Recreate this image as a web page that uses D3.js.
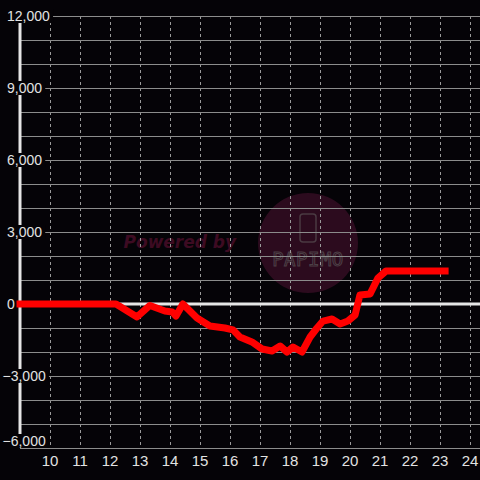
<!DOCTYPE html>
<html><head><meta charset="utf-8">
<script src="https://cdn.jsdelivr.net/npm/d3@7"></script>
<style>html,body{margin:0;padding:0;background:#050307;}svg{display:block;}</style>
</head><body>
<svg id="chart" width="480" height="480"></svg>
<script>
const xValues = [9.0, 12.2, 12.9, 13.33, 13.83, 14.07, 14.2, 14.43, 14.9, 15.33, 15.83, 16.1, 16.33, 16.73, 17.07, 17.4, 17.67, 17.9, 18.1, 18.4, 18.67, 18.9, 19.1, 19.4, 19.67, 19.93, 20.17, 20.33, 20.67, 20.93, 21.2, 23.17];
const yValues = [0, 0, -540, -60, -290, -330, -500, 0, -580, -920, -1000, -1080, -1375, -1580, -1875, -1960, -1750, -2000, -1790, -2000, -1375, -1000, -710, -625, -830, -710, -460, 375, 420, 1080, 1375, 1375];
const xTicks = [10, 11, 12, 13, 14, 15, 16, 17, 18, 19, 20, 21, 22, 23, 24];
const yLabelTicks = [12000, 9000, 6000, 3000, 0, -3000, -6000];
const yGridTicks = d3.range(-6000, 12001, 1000);

const W = 480, H = 480;
const svg = d3.select("#chart");
svg.append("rect").attr("width", W).attr("height", H).attr("fill", "#050307");

const x = d3.scaleLinear().domain([9, 24 + 1/3]).range([20, 480]);
const y = d3.scaleLinear().domain([-6000, 12000]).range([448, 16]);

// watermark
const wm = svg.append("g");
const wcx = x(18.6), wcy = y(2540);
wm.append("circle").attr("cx", wcx).attr("cy", wcy).attr("r", 50).attr("fill", "#2c0b1e");
wm.append("text").attr("x", x(12.45)).attr("y", y(2330)).attr("font-family", "DejaVu Sans")
  .attr("font-size", 17).attr("font-weight", "bold").attr("font-style", "italic")
  .attr("fill", "#3d0b22").text("Powered by");
wm.append("rect").attr("x", wcx - 8).attr("y", wcy - 29).attr("width", 16).attr("height", 28)
  .attr("rx", 3).attr("fill", "none").attr("stroke", "#4a3a42").attr("stroke-width", 1.5);
wm.append("text").attr("x", wcx).attr("y", wcy + 23).attr("text-anchor", "middle")
  .attr("font-family", "DejaVu Sans Mono").attr("font-size", 19).attr("letter-spacing", 0.5)
  .attr("fill", "none").attr("stroke", "#4c4046").attr("stroke-width", 1).text("PAPIMO");

// vertical dashed grid
svg.append("g").selectAll("line").data(xTicks).join("line")
  .attr("x1", d => x(d)).attr("x2", d => x(d))
  .attr("y1", y(12000)).attr("y2", y(-6000))
  .attr("stroke", "#9a9a9a").attr("stroke-width", 1).attr("stroke-dasharray", "3,3")
  .attr("shape-rendering", "crispEdges");

// horizontal grid
svg.append("g").selectAll("line").data(yGridTicks.filter(d => d !== 0)).join("line")
  .attr("x1", x(9)).attr("x2", W)
  .attr("y1", d => y(d)).attr("y2", d => y(d))
  .attr("stroke", "#8c8c8c").attr("stroke-width", 1).attr("shape-rendering", "crispEdges");

// zero line
svg.append("line").attr("x1", x(9)).attr("x2", W).attr("y1", y(0)).attr("y2", y(0))
  .attr("stroke", "#e6e6e6").attr("stroke-width", 3);

// y axis line
svg.append("line").attr("x1", x(9)).attr("x2", x(9)).attr("y1", y(12000)).attr("y2", y(-6000))
  .attr("stroke", "#e6e6e6").attr("stroke-width", 3);

// y labels with background
const fmt = d3.format(",");
const yl = svg.append("g").selectAll("g").data(yLabelTicks).join("g");
yl.each(function(d, i) {
  const g = d3.select(this);
  const cy = y(d) + (i === yLabelTicks.length - 1 ? -7 : 0);
  const t = g.append("text").attr("x", d < 0 ? 2.5 : 7).attr("y", cy).attr("dy", "0.35em")
    .attr("font-family", "Liberation Sans, Arial, sans-serif").attr("font-size", 14)
    .attr("fill", "#e2e2e2").text(fmt(d));
  const bb = t.node().getBBox();
  g.insert("rect", "text").attr("x", 0).attr("y", cy - 7).attr("width", bb.x + bb.width + 3)
    .attr("height", 14).attr("fill", "#050307");
});

// x labels
svg.append("g").selectAll("text").data(xTicks).join("text")
  .attr("x", d => x(d)).attr("y", 461).attr("dy", "0.35em").attr("text-anchor", "middle")
  .attr("font-family", "Liberation Sans, Arial, sans-serif").attr("font-size", 15)
  .attr("fill", "#e2e2e2").text(d => d);

// series line
const pts = xValues.map((v, i) => [v, yValues[i]]);
svg.append("path").datum(pts)
  .attr("d", d3.line().x(d => x(d[0])).y(d => y(d[1])))
  .attr("fill", "none").attr("stroke", "#ff0000").attr("stroke-width", 7)
  .attr("stroke-linejoin", "round").attr("stroke-linecap", "square");
</script>
</body></html>
